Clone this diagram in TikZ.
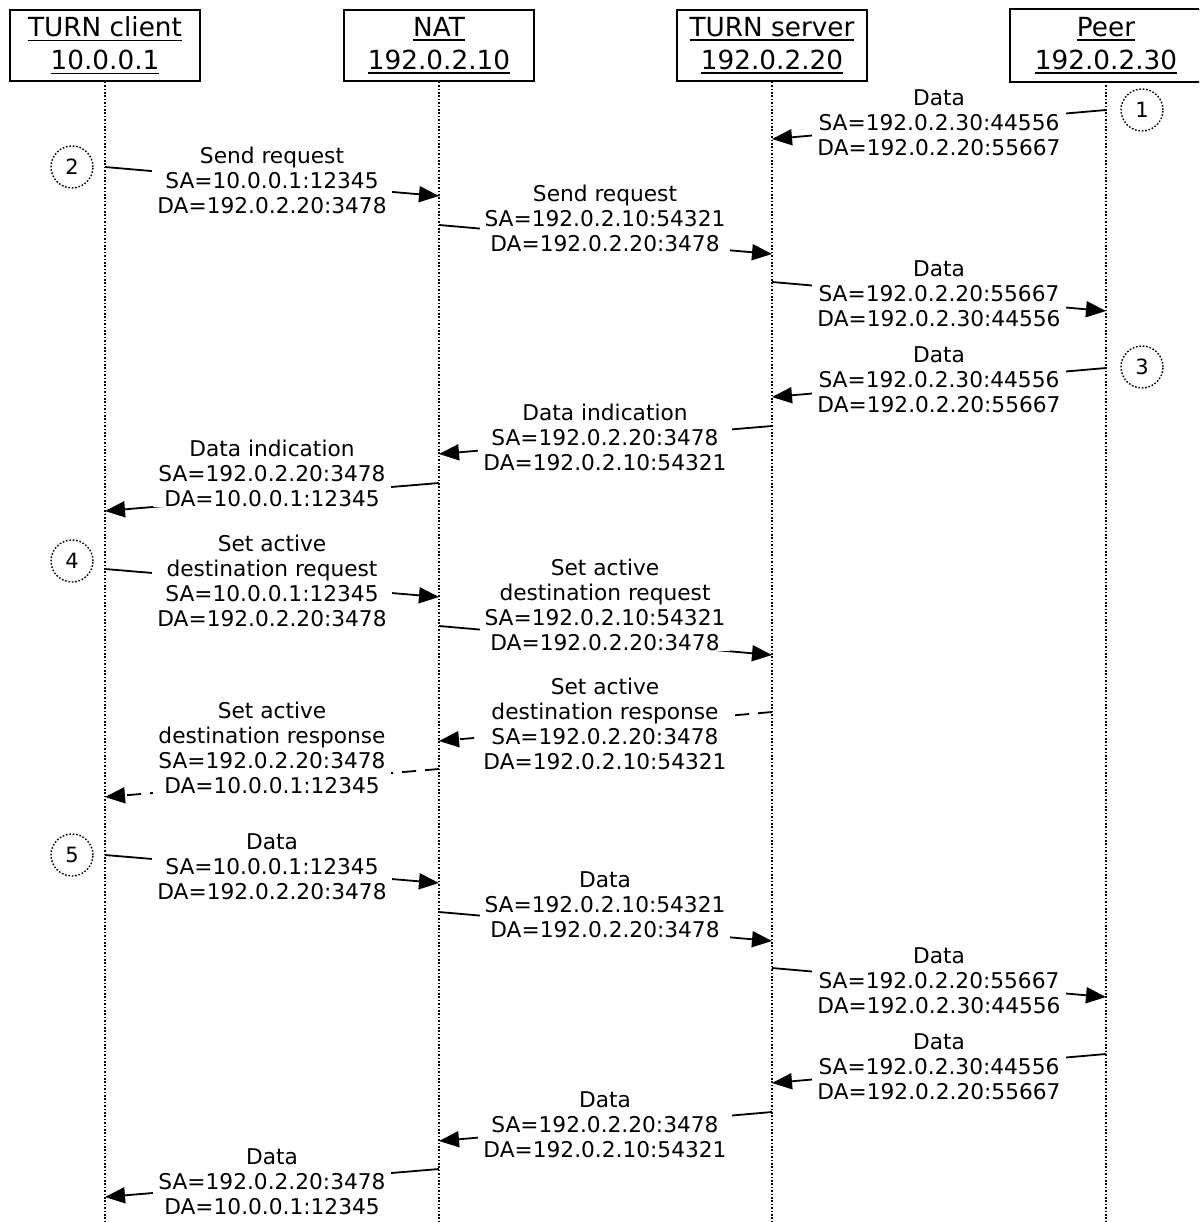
\documentclass[tikz,border=0pt]{standalone}
\usepackage{fontspec}
\setmainfont{DejaVu Sans}
\usetikzlibrary{arrows.meta}
\newsavebox\ulbox
\newcommand\hdrul[1]{\sbox\ulbox{#1}\rlap{\rule[-4.5pt]{\wd\ulbox}{1.6pt}}\usebox\ulbox}
\tikzset{
  hdrtext/.style={line width=1.6pt, minimum width=190pt, minimum height=71pt, inner sep=0pt, align=center, font=\fontsize{26.3}{33}\selectfont},
  hdr/.style={hdrtext, draw},
  boxline/.style={line width=1.6pt},
  life/.style={line width=1.5pt, dash pattern=on 1.6pt off 1.8pt},
  msgline/.style={line width=1.8pt, -{Triangle[length=20pt,width=16pt]}},
  respline/.style={msgline, dash pattern=on 14pt off 9pt},
  lbl/.style={fill=white, align=center, inner xsep=5pt, inner ysep=1pt, font=\fontsize{21.7}{25}\selectfont},
  num/.style={circle, draw, line width=1.4pt, dash pattern=on 1.6pt off 1.8pt, minimum size=42pt, inner sep=0pt, font=\fontsize{21}{21}\selectfont}
}
\begin{document}
\begin{tikzpicture}[x=1pt,y=-1pt]
\useasboundingbox (0,0) rectangle (1199,1222);
\clip (0,0) rectangle (1199,1222);
\fill[white] (0,0) rectangle (1199,1222);
% headers
\node[hdr] (hC) at (105,45.5) {\hdrul{TURN client}\\\hdrul{10.0.0.1}};
\node[hdr] (hN) at (439,45.5) {\hdrul{NAT}\\\hdrul{192.0.2.10}};
\node[hdr] (hS) at (772,45.5) {\hdrul{TURN server}\\\hdrul{192.0.2.20}};
\node[hdrtext] (hP) at (1106,45.5) {\hdrul{Peer}\\\hdrul{192.0.2.30}};
\draw[boxline] (hP.north west) rectangle ([xshift=40pt]hP.south east);
% lifeline ends
\coordinate (eC) at (105,1222);
\coordinate (eN) at (439,1222);
\coordinate (eS) at (772,1222);
\coordinate (eP) at (1106,1222);
\draw[life] (hC.south) -- (eC);
\draw[life] (hN.south) -- (eN);
\draw[life] (hS.south) -- (eS);
\draw[life] (hP.south) -- (eP);
% numbered circles
\node[num] (c1) at (1142,110) {1};
\node[num] (c2) at (72,167) {2};
\node[num] (c3) at (1142,367) {3};
\node[num] (c4) at (72,561) {4};
\node[num] (c5) at (72,855) {5};
% message end points
\coordinate (s1) at (1106,110);  \coordinate (d1) at (772,139);
\coordinate (s2) at (105,167);   \coordinate (d2) at (439,196);
\coordinate (s3) at (439,225);   \coordinate (d3) at (772,254);
\coordinate (s4) at (772,282);   \coordinate (d4) at (1106,311);
\coordinate (s5) at (1106,368);  \coordinate (d5) at (772,397);
\coordinate (s6) at (772,426);   \coordinate (d6) at (439,454);
\coordinate (s7) at (439,483);   \coordinate (d7) at (105,511);
\coordinate (s8) at (105,569);   \coordinate (d8) at (439,597);
\coordinate (s9) at (439,626);   \coordinate (d9) at (772,655);
\coordinate (s10) at (772,712);  \coordinate (d10) at (439,741);
\coordinate (s11) at (439,769);  \coordinate (d11) at (105,797);
\coordinate (s12) at (105,855);  \coordinate (d12) at (439,883);
\coordinate (s13) at (439,912);  \coordinate (d13) at (772,941);
\coordinate (s14) at (772,968);  \coordinate (d14) at (1106,997);
\coordinate (s15) at (1106,1054);\coordinate (d15) at (772,1083);
\coordinate (s16) at (772,1112); \coordinate (d16) at (439,1141);
\coordinate (s17) at (439,1169); \coordinate (d17) at (105,1197);
% lines
\foreach \i in {1,2,3,4,5,6,7,8,9,12,13,14,15,16,17} {\draw[msgline] (s\i) -- (d\i);}
\draw[respline] (s10) -- (d10);
\draw[respline] (s11) -- (d11);
% labels
\node[lbl] (l1) at (939,122.5) {Data\\SA=192.0.2.30:44556\\DA=192.0.2.20:55667};
\node[lbl] (l2) at (272,180) {Send request\\SA=10.0.0.1:12345\\DA=192.0.2.20:3478};
\node[lbl] (l3) at (605,218) {Send request\\SA=192.0.2.10:54321\\DA=192.0.2.20:3478};
\node[lbl] (l4) at (939,294) {Data\\SA=192.0.2.20:55667\\DA=192.0.2.30:44556};
\node[lbl] (l5) at (939,380) {Data\\SA=192.0.2.30:44556\\DA=192.0.2.20:55667};
\node[lbl] (l6) at (605,437) {Data indication\\SA=192.0.2.20:3478\\DA=192.0.2.10:54321};
\node[lbl] (l7) at (272,473) {Data indication\\SA=192.0.2.20:3478\\DA=10.0.0.1:12345};
\node[lbl] (l8) at (272,580.5) {Set active\\destination request\\SA=10.0.0.1:12345\\DA=192.0.2.20:3478};
\node[lbl] (l9) at (605,604.5) {Set active\\destination request\\SA=192.0.2.10:54321\\DA=192.0.2.20:3478};
\node[lbl] (l10) at (605,723.5) {Set active\\destination response\\SA=192.0.2.20:3478\\DA=192.0.2.10:54321};
\node[lbl] (l11) at (272,747.5) {Set active\\destination response\\SA=192.0.2.20:3478\\DA=10.0.0.1:12345};
\node[lbl] (l12) at (272,867) {Data\\SA=10.0.0.1:12345\\DA=192.0.2.20:3478};
\node[lbl] (l13) at (605,905) {Data\\SA=192.0.2.10:54321\\DA=192.0.2.20:3478};
\node[lbl] (l14) at (939,981) {Data\\SA=192.0.2.20:55667\\DA=192.0.2.30:44556};
\node[lbl] (l15) at (939,1067) {Data\\SA=192.0.2.30:44556\\DA=192.0.2.20:55667};
\node[lbl] (l16) at (605,1125) {Data\\SA=192.0.2.20:3478\\DA=192.0.2.10:54321};
\node[lbl] (l17) at (272,1182) {Data\\SA=192.0.2.20:3478\\DA=10.0.0.1:12345};
\end{tikzpicture}
\end{document}
